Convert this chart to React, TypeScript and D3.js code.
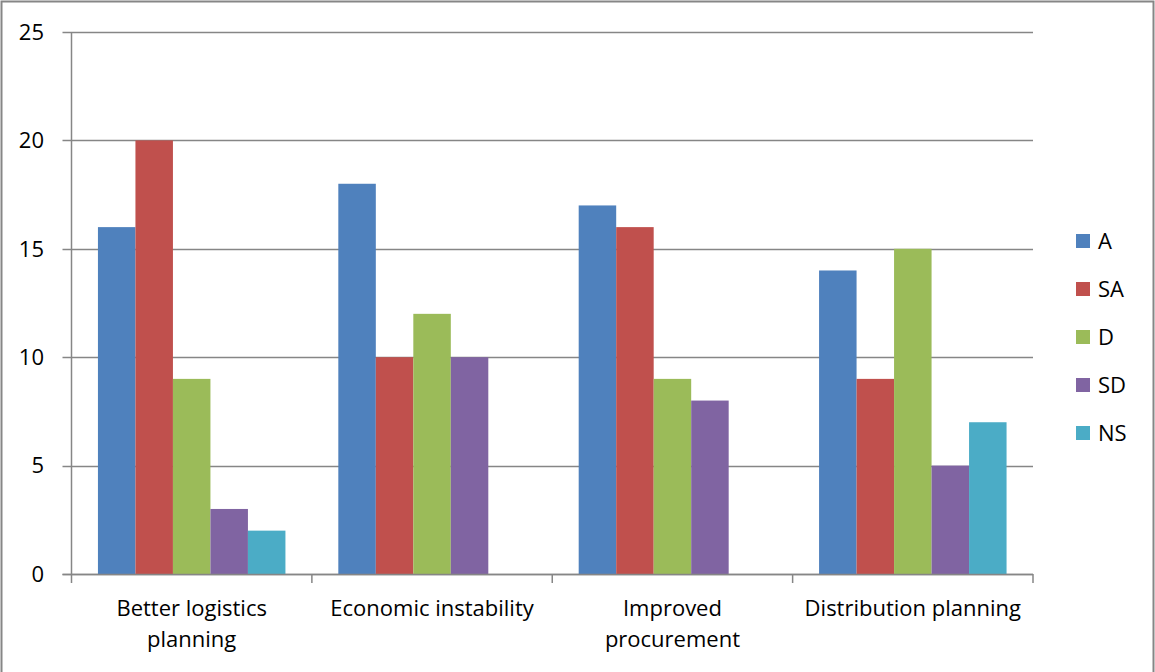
import React from "react";
import * as d3 from "d3";

const categories = [
  ["Better logistics", "planning"],
  ["Economic instability"],
  ["Improved", "procurement"],
  ["Distribution planning"],
];
const seriesNames = ["A", "SA", "D", "SD", "NS"];
const seriesColors = ["#4F81BD", "#C0504D", "#9BBB59", "#8064A2", "#4BACC6"];
const valuesA = [16, 18, 17, 14];
const valuesSA = [20, 10, 16, 9];
const valuesD = [9, 12, 9, 15];
const valuesSD = [3, 10, 8, 5];
const valuesNS = [2, 0, 0, 7];
const yTicks = [0, 5, 10, 15, 20, 25];

const W = 1155;
const H = 672;
const plot = { left: 71.5, right: 1033, top: 32, bottom: 574 };
const font = "'Open Sans', sans-serif";
const fontSize = 22;
const axisColor = "#868686";

export default function App() {
  const series = [valuesA, valuesSA, valuesD, valuesSD, valuesNS];
  const x0 = d3
    .scaleBand<number>()
    .domain(categories.map((_, i) => i))
    .range([plot.left, plot.right])
    .paddingInner(0)
    .paddingOuter(0);
  const groupW = x0.bandwidth();
  const pad = (groupW * 0.22) / 2;
  const x1 = d3
    .scaleBand<number>()
    .domain(seriesNames.map((_, i) => i))
    .range([pad, groupW - pad]);
  const y = d3.scaleLinear().domain([0, 25]).range([plot.bottom, plot.top]);

  return (
    <svg
      width={W}
      height={H}
      style={{ position: "absolute", left: 0, top: 0, background: "#fff" }}
    >
      <rect x={0} y={0} width={W} height={H} fill="#fff" />
      {/* border */}
      <path
        d={`M1.5,${H + 2} V1.5 H${W - 1.5} V${H + 2}`}
        fill="none"
        stroke={axisColor}
        strokeWidth={2}
      />
      {/* gridlines */}
      {yTicks.map((t) => (
        <line
          key={"g" + t}
          x1={plot.left - 9}
          x2={plot.right}
          y1={Math.round(y(t)) + 0.5}
          y2={Math.round(y(t)) + 0.5}
          stroke={axisColor}
          strokeWidth={1.5}
        />
      ))}
      {/* bars */}
      {categories.map((_, ci) =>
        series.map((vals, si) =>
          vals[ci] > 0 ? (
            <rect
              key={`b${ci}-${si}`}
              x={x0(ci)! + x1(si)!}
              y={y(vals[ci])}
              width={x1.bandwidth()}
              height={y(0) - y(vals[ci])}
              fill={seriesColors[si]}
            />
          ) : null
        )
      )}
      {/* y axis */}
      <line
        x1={plot.left}
        x2={plot.left}
        y1={plot.top}
        y2={plot.bottom}
        stroke={axisColor}
        strokeWidth={1.5}
      />
      {/* x axis */}
      <line
        x1={plot.left - 9}
        x2={plot.right}
        y1={plot.bottom + 0.5}
        y2={plot.bottom + 0.5}
        stroke={axisColor}
        strokeWidth={1.5}
      />
      {d3.range(categories.length + 1).map((i) => {
        const xx = plot.left + i * groupW;
        return (
          <line
            key={"xt" + i}
            x1={xx}
            x2={xx}
            y1={plot.bottom}
            y2={plot.bottom + 9}
            stroke={axisColor}
            strokeWidth={1.5}
          />
        );
      })}
      {/* y tick labels */}
      {yTicks.map((t) => (
        <text
          key={"yl" + t}
          x={44}
          y={y(t)}
          dy="0.35em"
          textAnchor="end"
          fontFamily={font}
          fontSize={fontSize}
          fill="#000"
        >
          {t}
        </text>
      ))}
      {/* x labels */}
      {categories.map((lines, ci) => (
        <text
          key={"xl" + ci}
          x={x0(ci)! + groupW / 2}
          y={616}
          textAnchor="middle"
          fontFamily={font}
          fontSize={fontSize}
          fill="#000"
        >
          {lines.map((l, li) => (
            <tspan key={li} x={x0(ci)! + groupW / 2} dy={li === 0 ? 0 : 31}>
              {l}
            </tspan>
          ))}
        </text>
      ))}
      {/* legend */}
      {seriesNames.map((n, i) => (
        <g key={"lg" + n} transform={`translate(1076, ${241 + i * 48})`}>
          <rect x={0} y={-7} width={14} height={14} fill={seriesColors[i]} />
          <text
            x={22}
            y={0}
            dy="0.35em"
            fontFamily={font}
            fontSize={fontSize}
            fill="#000"
          >
            {n}
          </text>
        </g>
      ))}
    </svg>
  );
}
